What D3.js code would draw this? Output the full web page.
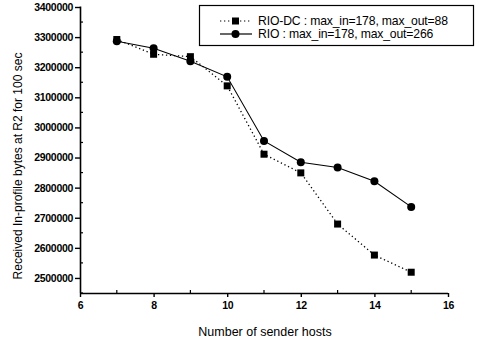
<!DOCTYPE html>
<html><head><meta charset="utf-8">
<script src="https://cdn.jsdelivr.net/npm/d3@7"></script>
<style>body{margin:0;background:#fff}svg{display:block}text{font-family:"Liberation Sans",Arial,sans-serif;fill:#000}</style>
</head><body>
<script>
const hosts = [7, 8, 9, 10, 11, 12, 13, 14, 15];
const rioDC = [3292000, 3243000, 3235000, 3138000, 2911000, 2849000, 2679000, 2576000, 2519000];
const rio = [3286000, 3263000, 3220000, 3168000, 2955000, 2884000, 2867000, 2821000, 2736000];
const seriesNames = ["RIO-DC : max_in=178, max_out=88", "RIO : max_in=178, max_out=266"];
const xTicks = [6, 8, 10, 12, 14, 16];
const yTicks = [2500000, 2600000, 2700000, 2800000, 2900000, 3000000, 3100000, 3200000, 3300000, 3400000];

const W = 479, H = 342;
const svg = d3.select("body").append("svg").attr("width", W).attr("height", H);
const x = d3.scaleLinear().domain([6, 16]).range([80, 448]);
const y = d3.scaleLinear().domain([2450000, 3400000]).range([293, 7]);

// minor ticks
const xMinor = d3.range(7, 16, 2);
const yMinor = d3.range(2450000, 3400000, 100000);
svg.append("g").selectAll("line").data(xMinor).join("line")
  .attr("x1", d => x(d)).attr("x2", d => x(d)).attr("y1", 293).attr("y2", 290)
  .attr("stroke", "#000").attr("stroke-width", 1.2);
svg.append("g").selectAll("line").data(yMinor).join("line")
  .attr("x1", 80).attr("x2", 83).attr("y1", d => y(d)).attr("y2", d => y(d))
  .attr("stroke", "#000").attr("stroke-width", 1.2);

const xAxis = svg.append("g").attr("transform", "translate(0,293)")
  .call(d3.axisBottom(x).tickValues(xTicks).tickSize(4).tickPadding(5).tickFormat(d3.format("d")));
const yAxis = svg.append("g").attr("transform", "translate(80,0)")
  .call(d3.axisLeft(y).tickValues(yTicks).tickSize(5).tickPadding(2).tickFormat(d3.format("d")));
[xAxis, yAxis].forEach(g => {
  g.select(".domain").attr("stroke-width", 1.6);
  g.selectAll(".tick line").attr("stroke-width", 1.4);
  g.selectAll(".tick text").style("font-size", "10.5px").style("font-weight", "bold").style("letter-spacing", "-0.3px");
});
yAxis.select(".domain").attr("d", "M0.5,6.5V293");
xAxis.select(".domain").attr("d", "M80,0.5H448");

svg.append("text").attr("x", 265).attr("y", 336).attr("text-anchor", "middle")
  .style("font-size", "12.5px").text("Number of sender hosts");
svg.append("text").attr("transform", "translate(22,166) rotate(-90)").attr("text-anchor", "middle")
  .style("font-size", "12px").text("Received In-profile bytes at R2 for 100 sec");

const line = d3.line().x(d => x(d[0])).y(d => y(d[1]));
const dcData = hosts.map((h, i) => [h, rioDC[i]]);
const rioData = hosts.map((h, i) => [h, rio[i]]);

svg.append("path").datum(dcData).attr("d", line).attr("fill", "none")
  .attr("stroke", "#000").attr("stroke-width", 1.3).attr("stroke-dasharray", "1.3,2.7");
svg.append("path").datum(rioData).attr("d", line).attr("fill", "none")
  .attr("stroke", "#000").attr("stroke-width", 1.1);

svg.append("g").selectAll("rect").data(dcData).join("rect")
  .attr("x", d => x(d[0]) - 3.5).attr("y", d => y(d[1]) - 3.5).attr("width", 7).attr("height", 7).attr("fill", "#000");
svg.append("g").selectAll("circle").data(rioData).join("circle")
  .attr("cx", d => x(d[0])).attr("cy", d => y(d[1])).attr("r", 4).attr("fill", "#000");

// legend
const lg = svg.append("g");
lg.append("rect").attr("x", 199.5).attr("y", 5.5).attr("width", 274).attr("height", 40)
  .attr("fill", "#fff").attr("stroke", "#000").attr("stroke-width", 1.2);
const rows = [{dy: 21, dash: "1.3,2.7", shape: "square"}, {dy: 34, dash: null, shape: "circle"}];
rows.forEach((r, i) => {
  const l = lg.append("line").attr("x1", 220).attr("x2", 252).attr("y1", r.dy).attr("y2", r.dy)
    .attr("stroke", "#000").attr("stroke-width", 1.2);
  if (r.dash) l.attr("stroke-dasharray", r.dash);
  if (r.shape === "square") lg.append("rect").attr("x", 232).attr("y", r.dy - 3.5).attr("width", 7).attr("height", 7).attr("fill", "#000");
  else lg.append("circle").attr("cx", 235.5).attr("cy", r.dy).attr("r", 4).attr("fill", "#000");
  lg.append("text").attr("x", 258).attr("y", r.dy + 4.3).style("font-size", "12.2px").style("letter-spacing", "-0.15px").text(seriesNames[i]);
});
</script>
</body></html>
